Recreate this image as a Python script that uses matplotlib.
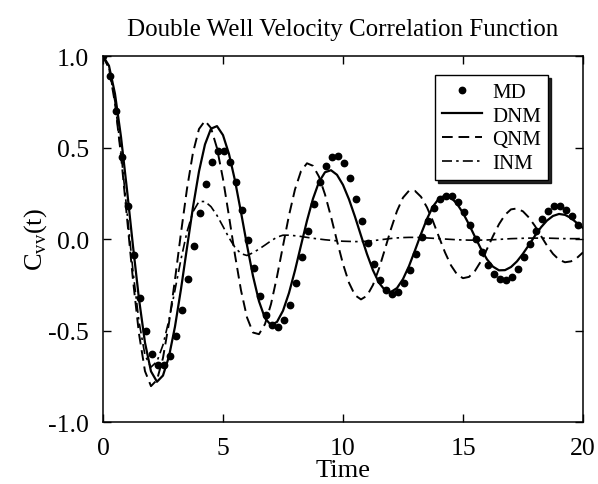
import numpy as np
import matplotlib
matplotlib.use("Agg")
import matplotlib.pyplot as plt

plt.rcParams['font.family'] = ['Liberation Serif', 'DejaVu Serif']
plt.rcParams['mathtext.fontset'] = 'custom'
plt.rcParams['mathtext.rm'] = 'Liberation Serif'
plt.rcParams['axes.unicode_minus'] = False

# MD simulation points
t_md = np.concatenate([[0.0], np.arange(0.30, 19.85, 0.25)])
c_md = [1.00,
        0.89, 0.70, 0.45, 0.18, -0.09, -0.32, -0.50, -0.63, -0.69, -0.69,
        -0.64, -0.53, -0.39, -0.22, -0.04, 0.14, 0.30, 0.42, 0.48, 0.48,
        0.42, 0.31, 0.16, -0.005, -0.16, -0.31, -0.415, -0.47, -0.48, -0.44,
        -0.36, -0.24, -0.10, 0.045, 0.19, 0.31, 0.40, 0.45, 0.455, 0.415,
        0.335, 0.22, 0.097, -0.024, -0.137, -0.224, -0.279, -0.30, -0.288, -0.242,
        -0.167, -0.082, 0.009, 0.10, 0.169, 0.219, 0.237, 0.233, 0.20, 0.146,
        0.078, 0.0, -0.073, -0.14, -0.19, -0.22, -0.224, -0.21, -0.164, -0.10,
        -0.027, 0.045, 0.109, 0.155, 0.179, 0.179, 0.16, 0.127, 0.078]

# model curves, sampled every 0.25 time units
t = np.linspace(0, 20, 81)
c_dnm = [1.000, 0.947, 0.794, 0.559, 0.270, -0.038, -0.327, -0.566, -0.723, -0.780,
         -0.746, -0.642, -0.479, -0.274, -0.048, 0.174, 0.369, 0.517, 0.603, 0.617,
         0.568, 0.465, 0.320, 0.147, -0.033, -0.202, -0.340, -0.433, -0.470, -0.453,
         -0.392, -0.295, -0.172, -0.035, 0.100, 0.220, 0.312, 0.365, 0.376, 0.351,
         0.296, 0.217, 0.122, 0.019, -0.082, -0.171, -0.239, -0.280, -0.289, -0.268,
         -0.219, -0.148, -0.062, 0.027, 0.110, 0.178, 0.222, 0.237, 0.226, 0.193,
         0.142, 0.080, 0.012, -0.054, -0.111, -0.151, -0.171, -0.170, -0.153, -0.122,
         -0.080, -0.032, 0.018, 0.064, 0.101, 0.126, 0.137, 0.132, 0.115, 0.087,
         0.060]
c_qnm = [1.000, 0.933, 0.743, 0.457, 0.118, -0.223, -0.517, -0.722, -0.804, -0.770,
         -0.650, -0.459, -0.222, 0.033, 0.274, 0.472, 0.601, 0.646, 0.607, 0.497,
         0.329, 0.125, -0.087, -0.280, -0.428, -0.511, -0.520, -0.465, -0.356, -0.206,
         -0.038, 0.129, 0.271, 0.371, 0.414, 0.400, 0.341, 0.244, 0.122, -0.010,
         -0.136, -0.239, -0.307, -0.330, -0.310, -0.251, -0.162, -0.055, 0.055, 0.153,
         0.226, 0.264, 0.263, 0.231, 0.173, 0.097, 0.011, -0.073, -0.144, -0.193,
         -0.214, -0.207, -0.174, -0.121, -0.055, 0.016, 0.081, 0.132, 0.162, 0.167,
         0.151, 0.117, 0.071, 0.017, -0.036, -0.081, -0.113, -0.127, -0.122, -0.103,
         -0.073]
c_inm = [1.000, 0.935, 0.751, 0.475, 0.150, -0.175, -0.451, -0.635, -0.700, -0.669,
         -0.579, -0.442, -0.279, -0.111, 0.039, 0.149, 0.205, 0.205, 0.177, 0.129,
         0.069, 0.007, -0.046, -0.080, -0.090, -0.075, -0.055, -0.033, -0.010, 0.010,
         0.021, 0.021, 0.018, 0.014, 0.009, 0.004, 0.000, -0.004, -0.007, -0.010,
         -0.012, -0.013, -0.014, -0.014, -0.012, -0.009, -0.005, -0.001, 0.003, 0.006,
         0.008, 0.009, 0.009, 0.008, 0.006, 0.004, 0.002, 0.000, -0.002, -0.004,
         -0.005, -0.006, -0.006, -0.006, -0.005, -0.004, -0.002, 0.000, 0.002, 0.003,
         0.004, 0.005, 0.005, 0.005, 0.005, 0.004, 0.003, 0.002, 0.002, 0.002,
         0.003]

x_ticks = [0, 5, 10, 15, 20]
y_ticks = [-1.0, -0.5, 0.0, 0.5, 1.0]

fig = plt.figure(figsize=(5.98, 4.85), dpi=100)
ax = fig.add_axes([0.1722, 0.1278, 0.8027, 0.7546])

ax.plot(t_md, c_md, 'o', color='black', markersize=4.6, label='MD', zorder=4)
ax.plot(t, c_dnm, '-', color='black', lw=1.6, label='DNM')
ax.plot(t, c_qnm, color='black', lw=1.4, linestyle=(0, (5.5, 3)), label='QNM')
ax.plot(t, c_inm, color='black', lw=1.2, linestyle=(0, (6, 2.5, 1.5, 2.5)), label='INM')

ax.set_xlim(0, 20)
ax.set_ylim(-1, 1)
ax.set_xticks(x_ticks)
ax.set_yticks(y_ticks)
ax.set_yticklabels(['%.1f' % v for v in y_ticks])
ax.tick_params(direction='in', length=5.5, width=1, top=True, right=True,
               labelsize=18.5)
ax.tick_params(axis='y', pad=10)
ax.tick_params(axis='x', pad=11)
for s in ax.spines.values():
    s.set_linewidth(1.1)

ax.set_title('Double Well Velocity Correlation Function', fontsize=18, pad=15)
ax.set_xlabel('Time', fontsize=19)
ax.set_ylabel(r'C$_{\mathregular{vv}}$(t)', fontsize=19)
ax.xaxis.set_label_coords(0.5, -0.1)
ax.yaxis.set_label_coords(-0.112, 0.5)

leg = ax.legend(loc='upper right', bbox_to_anchor=(0.928, 0.948), fontsize=15,
                frameon=True, fancybox=False, edgecolor='black',
                shadow={'color': 'black', 'alpha': 0.85},
                handlelength=1.9, handletextpad=0.5, labelspacing=0.2,
                borderpad=0.35, borderaxespad=0)
leg.get_frame().set_linewidth(1.0)

fig.savefig('out.png', dpi=100)
